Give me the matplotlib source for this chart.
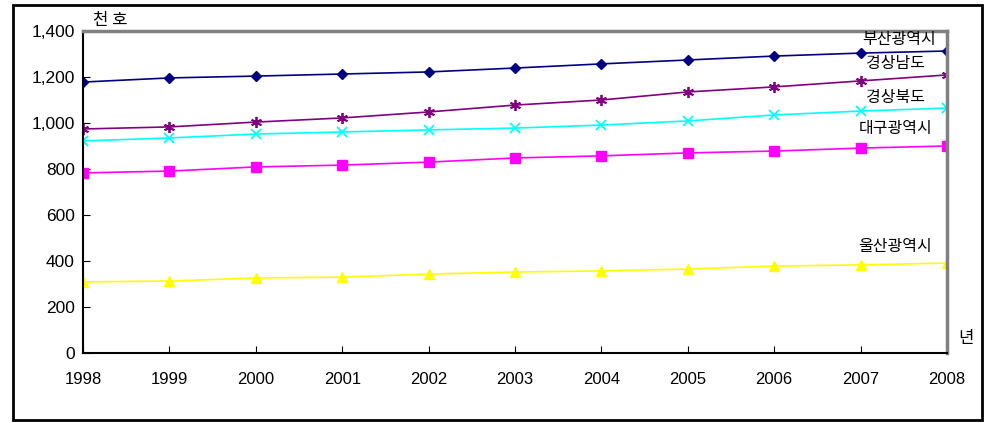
import matplotlib.pyplot as plt
from matplotlib.patches import Rectangle

plt.rcParams['font.family'] = ['Liberation Sans', 'Noto Sans CJK KR', 'DejaVu Sans']

years = [1998, 1999, 2000, 2001, 2002, 2003, 2004, 2005, 2006, 2007, 2008]
busan = [1178, 1196, 1204, 1213, 1222, 1239, 1257, 1274, 1291, 1304, 1313]
gyeongnam = [974, 983, 1004, 1022, 1048, 1078, 1100, 1135, 1157, 1183, 1209]
gyeongbuk = [922, 935, 952, 961, 970, 978, 991, 1009, 1035, 1052, 1065]
daegu = [783, 791, 809, 817, 830, 848, 857, 870, 878, 891, 900]
ulsan = [309, 313, 326, 330, 343, 352, 357, 365, 378, 383, 391]
yticks = [0, 200, 400, 600, 800, 1000, 1200, 1400]
ylabels = ['0', '200', '400', '600', '800', '1,000', '1,200', '1,400']

fig = plt.figure(figsize=(9.94, 4.23), dpi=100)
ax = fig.add_axes([0.0835, 0.1655, 0.8692, 0.7612])

ax.plot(years, busan, '-D', color='#000080', lw=1.2, ms=5)
ax.plot(years, gyeongnam, '-', color='#800080', lw=1.2, marker=(6, 2, 0), ms=8, mew=1.3)
ax.plot(years, gyeongbuk, '-x', color='#00ffff', lw=1.2, ms=7, mew=1.3)
ax.plot(years, daegu, '-s', color='#ff00ff', lw=1.2, ms=7)
ax.plot(years, ulsan, '-^', color='#ffff00', lw=1.2, ms=7)

kr = ['Noto Sans CJK KR', 'DejaVu Sans']
ax.text(2007.45, 1361, '부산광역시', family=kr, fontsize=11.5, ha='center', va='center')
ax.text(2007.4, 1257, '경상남도', family=kr, fontsize=11.5, ha='center', va='center')
ax.text(2007.4, 1113, '경상북도', family=kr, fontsize=11.5, ha='center', va='center')
ax.text(2007.4, 974, '대구광역시', family=kr, fontsize=11.5, ha='center', va='center')
ax.text(2007.4, 461, '울산광역시', family=kr, fontsize=11.5, ha='center', va='center')
fig.text(0.111, 0.952, '천 호', family=kr, fontsize=12, ha='center', va='center')
fig.text(0.972, 0.2, '년', family=kr, fontsize=12, ha='center', va='center')

ax.set_xlim(1998, 2008)
ax.set_ylim(0, 1400)
ax.set_xticks(years)
ax.set_yticks(yticks)
ax.set_yticklabels(ylabels)
ax.tick_params(direction='in', length=5, labelsize=12, colors='black')
ax.tick_params(axis='y', labelsize=12.5, pad=6)
ax.tick_params(axis='x', pad=14)
for s in ['left', 'bottom']:
    ax.spines[s].set_color('black')
    ax.spines[s].set_linewidth(1.5)
for s in ['top', 'right']:
    ax.spines[s].set_color('#808080')
    ax.spines[s].set_linewidth(2.5)

fig.patches.append(Rectangle((0.013, 0.007), 0.975, 0.981, transform=fig.transFigure,
                             fill=False, edgecolor='black', lw=2))

plt.savefig('out.png', dpi=100)
